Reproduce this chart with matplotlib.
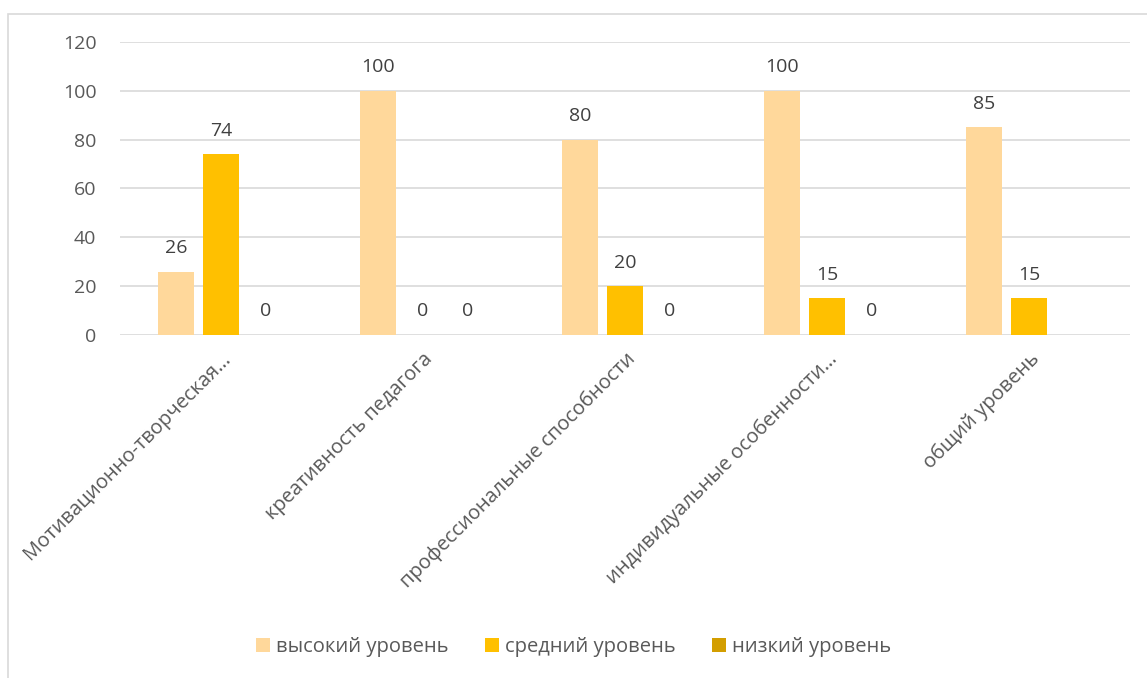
import matplotlib
matplotlib.use("Agg")
import matplotlib.pyplot as plt
import numpy as np
from matplotlib.patches import Rectangle

categories = ["Мотивационно-творческая…", "креативность педагога",
              "профессиональные способности", "индивидуальные особенности…",
              "общий уровень"]
series_names = ["высокий уровень", "средний уровень", "низкий уровень"]
high = [26, 100, 80, 100, 85]
mid = [74, 0, 20, 15, 15]
low = [0, 0, 0, 0, None]
y_ticks = [0, 20, 40, 60, 80, 100, 120]

colors = ["#FFD89B", "#FFC000", "#D39E00"]
text_color = "#595959"
plt.rcParams['font.family'] = ['Open Sans', 'DejaVu Sans']
fs = 14

fig = plt.figure(figsize=(11.47, 6.78), dpi=100)
ax = fig.add_axes([120/1147, 1 - 335/678, (1130-120)/1147, (335-42)/678])

fig.patches.append(Rectangle((8/1147, -0.1), 1.2, 1 - 14/678 + 0.1,
                             transform=fig.transFigure, fill=False,
                             edgecolor="#D9D9D9", linewidth=1.2))

x = np.arange(len(categories))
width = 0.178
offsets = [-0.223, 0, 0.223]
for i, (vals, name) in enumerate(zip([high, mid, low], series_names)):
    xs = [xi + offsets[i] for xi, v in zip(x, vals) if v is not None]
    vs = [v for v in vals if v is not None]
    ax.bar(xs, vs, width=width, color=colors[i], label=name, zorder=3)
    for xi, v in zip(xs, vs):
        ax.text(xi, v + 6, str(v), ha="center", va="bottom",
                fontsize=fs, color="#404040")

ax.set_xlim(-0.5, len(categories) - 0.5)
ax.set_ylim(0, 120)
ax.set_yticks(y_ticks)
ax.set_yticklabels([str(t) for t in y_ticks], fontsize=fs, color=text_color)
ax.grid(axis="y", color="#D9D9D9", linewidth=1.2, zorder=0)
ax.set_axisbelow(True)
for s in ax.spines.values():
    s.set_visible(False)
ax.tick_params(axis="both", length=0)
ax.tick_params(axis="y", pad=17)
ax.set_xticks(x)
ax.set_xticklabels(categories, rotation=45, ha="right", rotation_mode="anchor",
                   fontsize=fs + 0.5, color=text_color)
ax.tick_params(axis="x", pad=10)

leg = fig.legend(loc="center", bbox_to_anchor=(0.5, 1 - 647/678), ncol=3,
                 frameon=False, fontsize=fs + 0.5, handlelength=0.7, handleheight=0.7,
                 columnspacing=1.8, handletextpad=0.3)
for t in leg.get_texts():
    t.set_color(text_color)

fig.savefig("out.png", dpi=100)
